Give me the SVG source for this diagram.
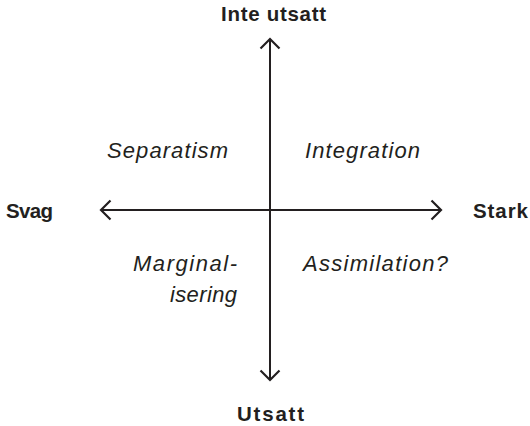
<svg xmlns="http://www.w3.org/2000/svg" width="530" height="426" viewBox="0 0 530 426">
<style>
.ax{stroke:#231f20;stroke-width:2;fill:none;}
.hd{stroke:#231f20;stroke-width:2.2;fill:none;stroke-linecap:butt;stroke-linejoin:miter;}
.b{font-family:"Liberation Sans",Arial,sans-serif;font-weight:bold;font-size:20.5px;fill:#231f20;}
.i{font-family:"Liberation Sans",Arial,sans-serif;font-style:italic;font-size:22px;fill:#231f20;}
</style>
<rect width="530" height="426" fill="#ffffff"/>
<g id="connectors">
<line class="ax" x1="270" y1="39" x2="270" y2="380"/>
<line class="ax" x1="101" y1="210" x2="441" y2="210"/>
<polyline class="hd" points="260.5,48.5 270,39 279.5,48.5"/>
<polyline class="hd" points="260.5,370.5 270,380 279.5,370.5"/>
<polyline class="hd" points="110.5,200.5 101,210 110.5,219.5"/>
<polyline class="hd" points="431.5,200.5 441,210 431.5,219.5"/>
</g>
<g id="top"><text class="b" x="221" y="21" textLength="105" lengthAdjust="spacing">Inte utsatt</text></g>
<g id="bottom"><text class="b" x="237" y="421" textLength="67" lengthAdjust="spacing">Utsatt</text></g>
<g id="left"><text class="b" x="6" y="218" textLength="47" lengthAdjust="spacing">Svag</text></g>
<g id="right"><text class="b" x="473" y="218" textLength="55" lengthAdjust="spacing">Stark</text></g>
<g id="separatism"><text class="i" x="107" y="158" textLength="121" lengthAdjust="spacing">Separatism</text></g>
<g id="integration"><text class="i" x="305" y="158" textLength="115" lengthAdjust="spacing">Integration</text></g>
<g id="marginalisering">
<text class="i" x="133" y="271" textLength="104" lengthAdjust="spacing">Marginal-</text>
<text class="i" x="170" y="302" textLength="67" lengthAdjust="spacing">isering</text>
</g>
<g id="assimilation"><text class="i" x="303" y="271" textLength="145" lengthAdjust="spacing">Assimilation?</text></g>
</svg>
